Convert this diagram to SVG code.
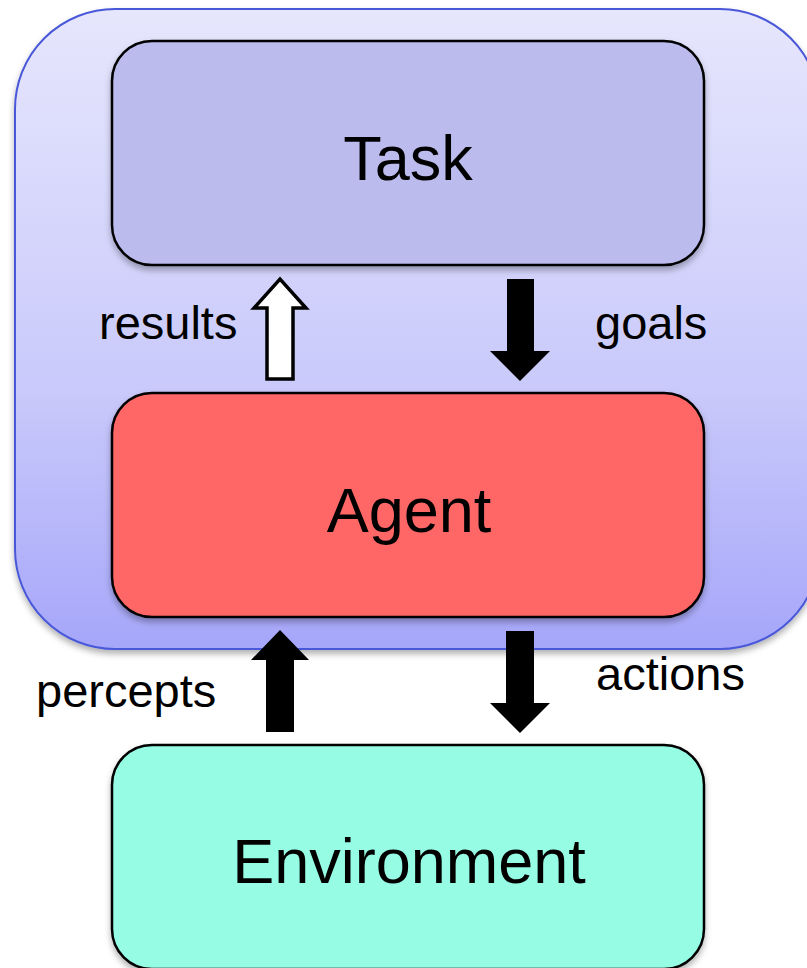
<svg xmlns="http://www.w3.org/2000/svg" width="807" height="968" viewBox="0 0 807 968">
<defs>
<linearGradient id="bg" x1="0" y1="0" x2="0" y2="1">
<stop offset="0" stop-color="#E6E6FD"/>
<stop offset="0.6" stop-color="#C9C9FB"/>
<stop offset="1" stop-color="#A6A6FA"/>
</linearGradient>
<filter id="sh" x="-10%" y="-10%" width="120%" height="130%">
<feDropShadow dx="0" dy="4" stdDeviation="3" flood-color="#000" flood-opacity="0.3"/>
</filter>
<style>
.box{stroke:#000;stroke-width:2.5;filter:url(#sh)}
.big{font-family:"Liberation Sans",Arial,sans-serif;font-size:63px;fill:#000;text-anchor:middle}
.lbl{font-family:"Liberation Sans",Arial,sans-serif;font-size:47px;fill:#000}
.arr{fill:#000;stroke:none}
</style>
</defs>
<g id="container">
<rect x="15" y="9" width="805" height="640" rx="100" ry="100" fill="url(#bg)" stroke="#4A58D8" stroke-width="2" filter="url(#sh)"/>
</g>
<g id="task">
<rect class="box" x="112" y="41" width="592" height="224" rx="40" ry="40" fill="#BBBBEE"/>
<text class="big" x="408" y="180">Task</text>
</g>
<g id="agent">
<rect class="box" x="112" y="393" width="592" height="224" rx="40" ry="40" fill="#FF6666"/>
<text class="big" x="409" y="532">Agent</text>
</g>
<g id="environment">
<rect class="box" x="112" y="745" width="592" height="224" rx="40" ry="40" fill="#96FCE4"/>
<text class="big" x="409" y="883">Environment</text>
</g>
<g id="connectors">
<path d="M267 379 V308 H254 L280 279 L306 308 H293 V379 Z" fill="#fff" stroke="#000" stroke-width="3.5" stroke-linejoin="miter"/>
<path class="arr" d="M507 279 H534 V351 H550 L520 381 L490 351 H507 Z"/>
<path class="arr" d="M266 732 V660 H251 L280 630 L309 660 H294 V732 Z"/>
<path class="arr" d="M506 631 H534 V703 H550 L520 733 L490 703 H506 Z"/>
<text class="lbl" x="99" y="339">results</text>
<text class="lbl" x="595" y="339">goals</text>
<text class="lbl" x="36" y="707">percepts</text>
<text class="lbl" x="596" y="690">actions</text>
</g>
</svg>
